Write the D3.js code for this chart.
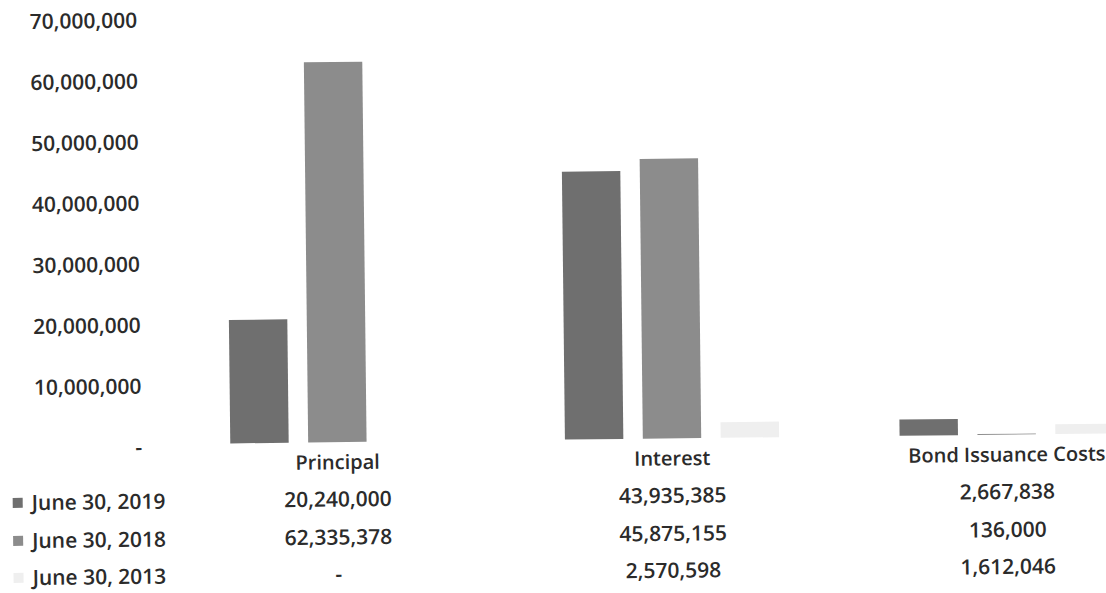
<!DOCTYPE html>
<html>
<head>
<meta charset="utf-8">
<script src="https://cdn.jsdelivr.net/npm/d3@7"></script>
<style>
  html, body { margin: 0; padding: 0; background: #ffffff; }
  svg { display: block; }
  text { font-family: "Open Sans", "Liberation Sans", sans-serif; font-weight: 600; fill: #2b2b2b; }
</style>
</head>
<body>
<svg id="chart" width="1106" height="593"></svg>
<script>
// ---- data ----
const categories = ["Principal", "Interest", "Bond Issuance Costs"];
const seriesNames = ["June 30, 2019", "June 30, 2018", "June 30, 2013"];
const values2019 = [20240000, 43935385, 2667838];
const values2018 = [62335378, 45875155, 136000];
const values2013 = [0, 2570598, 1612046];
const yTicks = [0, 10000000, 20000000, 30000000, 40000000, 50000000, 60000000, 70000000];
const seriesColors = ["#6f6f6f", "#8c8c8c", "#efefef"];

const seriesValues = [values2019, values2018, values2013];

const svg = d3.select("#chart");
// the scanned original is slightly tilted
const root = svg.append("g").attr("transform", "rotate(-0.65)");

const y = d3.scaleLinear().domain([0, 70000000]).range([446, 19]);
const x0 = d3.scaleBand().domain(categories).range([165, 1169]).paddingInner(0.36).paddingOuter(0.18);
const x1 = d3.scaleBand().domain(seriesNames).range([0, x0.bandwidth()]).paddingInner(0.25);

const fmt = d3.format(",");
const valFmt = v => v === 0 ? "-" : fmt(v);

// y axis
const yAxis = d3.axisLeft(y).tickValues(yTicks).tickFormat(valFmt).tickSize(0).tickPadding(0);
const ax = root.append("g").attr("transform", "translate(137,3)").call(yAxis);
ax.select(".domain").remove();
ax.selectAll("text")
  .style("font-family", '"Open Sans", sans-serif')
  .style("font-weight", 600)
  .style("font-size", "21px")
  .attr("fill", "#2b2b2b");

// bars
const groups = root.selectAll("g.cat").data(categories).join("g")
  .attr("class", "cat")
  .attr("transform", d => `translate(${x0(d)},0)`);

groups.selectAll("rect").data((c, ci) => seriesNames.map((s, si) => ({ s, si, v: seriesValues[si][ci] })))
  .join("rect")
  .attr("x", d => x1(d.s))
  .attr("width", x1.bandwidth())
  .attr("y", d => y(d.v))
  .attr("height", d => y(0) - y(d.v))
  .attr("fill", d => seriesColors[d.si]);

// category labels
root.selectAll("text.cat").data(categories).join("text")
  .attr("class", "cat")
  .attr("x", d => x0(d) + x0.bandwidth() / 2)
  .attr("y", 466)
  .attr("dy", "0.35em")
  .attr("text-anchor", "middle")
  .style("font-size", "20px")
  .style("font-weight", 600)
  .text(d => d);

// data table
const rowY = [503, 541, 578];
seriesNames.forEach((s, si) => {
  root.append("rect")
    .attr("x", 7).attr("y", rowY[si] - 5)
    .attr("width", 10).attr("height", 10)
    .attr("fill", seriesColors[si]);
  root.append("text")
    .attr("x", 26).attr("y", rowY[si]).attr("dy", "0.35em")
    .style("font-size", "21px")
    .text(s);
  categories.forEach((c, ci) => {
    root.append("text")
      .attr("x", x0(c) + x0.bandwidth() / 2)
      .attr("y", rowY[si]).attr("dy", "0.35em")
      .attr("text-anchor", "middle")
      .style("font-size", "21px")
      .text(valFmt(seriesValues[si][ci]));
  });
});
</script>
</body>
</html>
